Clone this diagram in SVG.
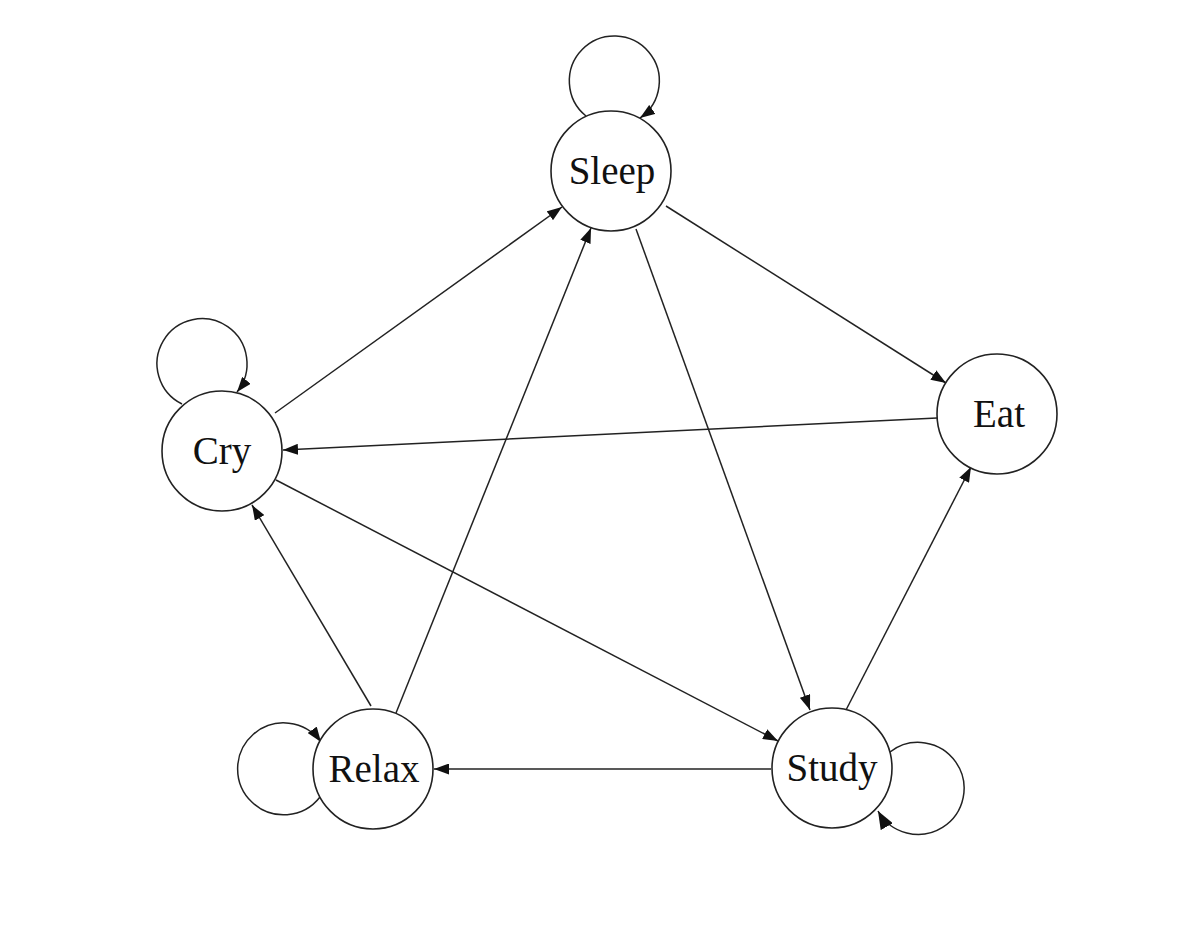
<svg xmlns="http://www.w3.org/2000/svg" width="1190" height="932" viewBox="0 0 1190 932">
<style>
.node circle{fill:#fff;stroke:#222;stroke-width:1.6}
.node text{font-family:"Liberation Serif","Times New Roman",serif;font-size:39px;fill:#111;text-anchor:middle}
.edge{fill:none;stroke:#222;stroke-width:1.5;marker-end:url(#ah)}
.big{marker-end:url(#ahb)}
</style>
<defs>
<marker id="ah" viewBox="0 0 15 11" refX="15" refY="5.5" markerWidth="15" markerHeight="11" markerUnits="userSpaceOnUse" orient="auto"><path d="M0,0 L15,5.5 L0,11 z" fill="#111"/></marker>
<marker id="ahb" viewBox="0 0 18 14" refX="18" refY="7" markerWidth="18" markerHeight="14" markerUnits="userSpaceOnUse" orient="auto"><path d="M0,0 L18,7 L0,14 z" fill="#111"/></marker>
</defs>
<rect width="1190" height="932" fill="#fff"/>
<g id="connectors">
<path class="edge" d="M275,413 L562,207"/>
<path class="edge" d="M396,713 L591,228"/>
<path class="edge" d="M666,206 L946,383"/>
<path class="edge" d="M636,229 L810,710"/>
<path class="edge" d="M937,418 L283,450"/>
<path class="edge" d="M276,480 L778,741"/>
<path class="edge" d="M371,706 L252,505"/>
<path class="edge" d="M846,710 L971,467"/>
<path class="edge" d="M771,769 L434,769"/>
<path class="edge" d="M586,116 A45,45 0 1 1 640,118"/>
<path class="edge" d="M182,404 A45,45 0 1 1 237,392"/>
<path class="edge" d="M320,797 A46,46 0 1 1 321,742"/>
<path class="edge big" d="M890,752 A46,46 0 1 1 878,811"/>
</g>
<g id="node-sleep" class="node"><circle cx="611" cy="171" r="60"/><text x="612" y="184">Sleep</text></g>
<g id="node-cry" class="node"><circle cx="222" cy="451" r="60"/><text x="222" y="464">Cry</text></g>
<g id="node-eat" class="node"><circle cx="997" cy="414" r="60"/><text x="999" y="427">Eat</text></g>
<g id="node-relax" class="node"><circle cx="373" cy="769" r="60"/><text x="374" y="782">Relax</text></g>
<g id="node-study" class="node"><circle cx="832" cy="768" r="60"/><text x="832" y="781">Study</text></g>
</svg>
